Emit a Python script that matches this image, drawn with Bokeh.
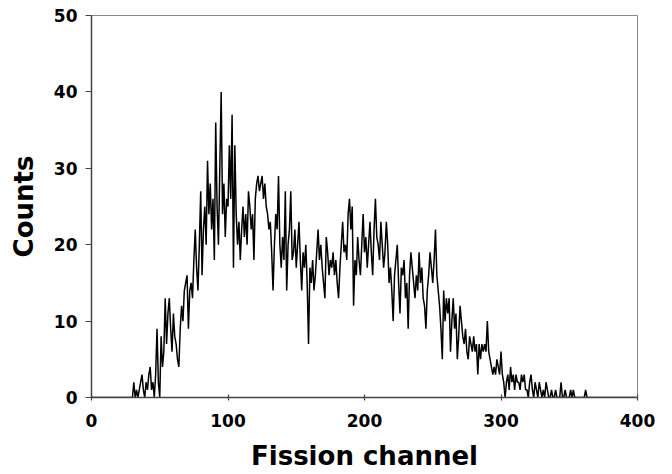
from bokeh.plotting import figure
from bokeh.models import Range1d, FixedTicker
from bokeh.embed import file_html
from bokeh.resources import INLINE

# Counts per fission channel (channels 0..399)
counts = [
    0, 0, 0, 0, 0, 0, 0, 0, 0, 0,
    0, 0, 0, 0, 0, 0, 0, 0, 0, 0,
    0, 0, 0, 0, 0, 0, 0, 0, 0, 0,
    0, 2, 0, 1, 0, 1, 2, 3, 1, 0,
    2, 1, 3, 4, 1, 2, 0, 3, 9, 2,
    0, 8, 4, 6, 13, 7, 11, 13, 9, 6,
    11, 8, 7, 5, 4, 9, 12, 10, 14, 15,
    16, 9, 14, 15, 13, 18, 22, 17, 14, 20,
    27, 16, 22, 25, 20, 31, 24, 28, 22, 26,
    18, 36, 25, 20, 30, 40, 24, 28, 21, 26,
    25, 33, 26, 37, 17, 33, 24, 20, 23, 18,
    22, 25, 21, 24, 20, 27, 25, 22, 24, 18,
    26, 28, 29, 27, 28, 29, 26, 28, 25, 24,
    22, 23, 19, 14, 20, 24, 22, 29, 20, 17,
    21, 18, 27, 14, 20, 22, 27, 18, 19, 22,
    17, 20, 23, 18, 14, 19, 17, 20, 15, 7,
    17, 15, 18, 14, 16, 19, 22, 18, 20, 17,
    15, 13, 21, 19, 16, 18, 17, 19, 16, 18,
    15, 13, 17, 20, 23, 19, 20, 18, 24, 26,
    22, 25, 12, 18, 16, 21, 18, 16, 20, 24,
    19, 21, 17, 20, 23, 19, 16, 22, 26, 21,
    20, 18, 23, 20, 17, 19, 23, 20, 15, 17,
    14, 10, 16, 18, 20, 15, 11, 17, 16, 18,
    13, 15, 9, 16, 19, 17, 15, 13, 16, 14,
    19, 15, 17, 13, 12, 9, 14, 16, 19, 17,
    15, 18, 22, 16, 14, 12, 9, 5, 14, 10,
    13, 11, 13, 6, 10, 13, 9, 11, 5, 8,
    12, 10, 8, 7, 9, 6, 5, 8, 7, 6,
    8, 6, 7, 3, 7, 5, 7, 6, 7, 6,
    10, 6, 5, 4, 3, 4, 3, 5, 4, 3,
    6, 3, 2, 0, 2, 3, 1, 4, 2, 3,
    1, 3, 2, 2, 1, 3, 2, 3, 1, 1,
    0, 2, 3, 1, 0, 2, 1, 0, 2, 1,
    0, 1, 0, 2, 1, 0, 0, 1, 0, 0,
    1, 0, 0, 0, 2, 0, 0, 1, 0, 0,
    0, 1, 0, 1, 0, 0, 0, 0, 0, 0,
    0, 0, 1, 0, 0, 0, 0, 0, 0, 0,
    0, 0, 0, 0, 0, 0, 0, 0, 0, 0,
    0, 0, 0, 0, 0, 0, 0, 0, 0, 0,
    0, 0, 0, 0, 0, 0, 0, 0, 0, 0,
]
channels = list(range(len(counts)))

x_ticks = [0, 100, 200, 300, 400]
y_ticks = [0, 10, 20, 30, 40, 50]

p = figure(width=672, height=474, output_backend="svg", toolbar_location=None,
           x_range=Range1d(0, 400), y_range=Range1d(0, 50),
           min_border_left=91, min_border_right=35, min_border_top=15, min_border_bottom=77)
p.line(channels, counts, line_color="black", line_width=1.5)

p.xgrid.visible = False
p.ygrid.visible = False
p.outline_line_color = "#888888"
p.outline_line_width = 1
p.background_fill_color = "white"
p.border_fill_color = "white"

font = "DejaVu Sans"
p.xaxis.ticker = FixedTicker(ticks=x_ticks)
p.yaxis.ticker = FixedTicker(ticks=y_ticks)
for ax in (p.xaxis, p.yaxis):
    ax.axis_line_color = "#444444"
    ax.axis_line_width = 1.5
    ax.major_tick_line_color = "#444444"
    ax.major_tick_line_width = 1.2
    ax.minor_tick_line_color = None
    ax.major_label_text_font = font
    ax.major_label_text_font_style = "bold"
    ax.major_label_text_font_size = "17px"
    ax.major_label_text_color = "black"
    ax.axis_label_text_font = font
    ax.axis_label_text_font_style = "bold"
    ax.axis_label_text_font_size = "26px"
    ax.axis_label_text_color = "black"

p.xaxis.axis_label = "Fission channel"
p.yaxis.axis_label = "Counts"
p.xaxis.major_tick_in = 3
p.xaxis.major_tick_out = 3
p.yaxis.major_tick_in = 0
p.yaxis.major_tick_out = 6
p.xaxis.major_label_standoff = 13
p.yaxis.major_label_standoff = 8
p.xaxis.axis_label_standoff = 11
p.yaxis.axis_label_standoff = 12

open("out.html", "w").write(file_html(p, INLINE))
